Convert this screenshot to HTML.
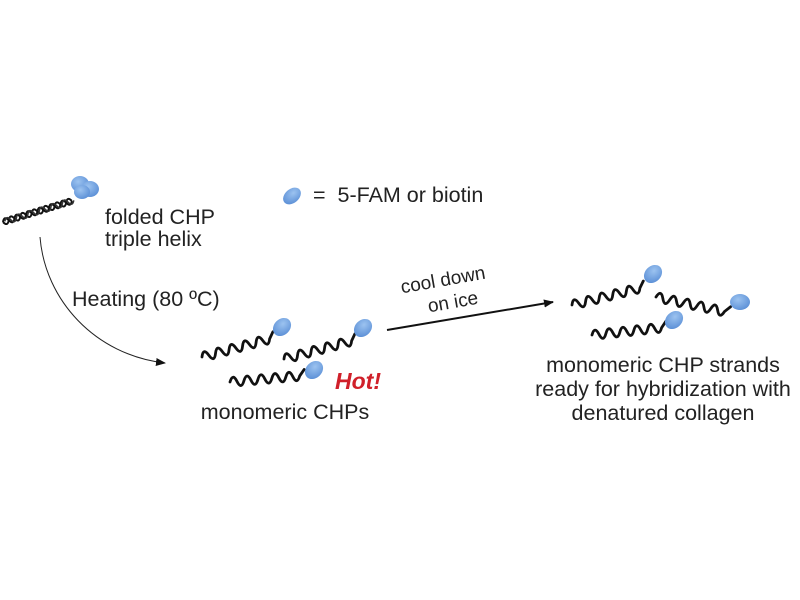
<!DOCTYPE html>
<html><head><meta charset="utf-8"><style>
html,body{margin:0;padding:0;background:#fff;}
svg{display:block;}
text{font-family:"Liberation Sans",sans-serif;fill:#222;}
</style></head><body>
<svg width="800" height="600" viewBox="0 0 800 600" xmlns="http://www.w3.org/2000/svg">
<defs>
<path id="w" d="M0 0 q3.5 -9 7 0 t7 0 t7 0 t7 0 t7 0 t7 0 t7 0 t7 0 t7 0 t7 0 l5 -6" fill="none" stroke="#111" stroke-width="2.8" stroke-linecap="round"/>
<radialGradient id="b" cx="0.4" cy="0.35" r="0.7"><stop offset="0" stop-color="#9cc3f0"/><stop offset="1" stop-color="#5b8fd6"/></radialGradient>
<marker id="ah" markerWidth="10" markerHeight="8" refX="9" refY="4" orient="auto" markerUnits="userSpaceOnUse"><path d="M0 0 L10 4 L0 8 z" fill="#111"/></marker>
</defs>
<!-- helix -->
<g transform="translate(3,222) rotate(-17)">
<path d="M0 0 q3 -6 6 0 t6 0 t6 0 t6 0 t6 0 t6 0 t6 0 t6 0 t6 0 t6 0 t6 0 t6 0" fill="none" stroke="#111" stroke-width="2"/>
<path d="M0 0 q3 6 6 0 t6 0 t6 0 t6 0 t6 0 t6 0 t6 0 t6 0 t6 0 t6 0 t6 0 t6 0" fill="none" stroke="#111" stroke-width="2"/>
<path d="M2 0 q3 -6 6 0 t6 0 t6 0 t6 0 t6 0 t6 0 t6 0 t6 0 t6 0 t6 0 t6 0 t6 0" fill="none" stroke="#333" stroke-width="1.5"/>
</g>
<ellipse cx="80" cy="184" rx="9" ry="8" fill="url(#b)"/>
<ellipse cx="90" cy="189" rx="9" ry="8" fill="url(#b)"/>
<ellipse cx="82" cy="192" rx="8" ry="7" fill="url(#b)"/>
<text x="105" y="224" font-size="21.5">folded CHP</text>
<text x="105" y="246" font-size="21.5">triple helix</text>
<ellipse cx="292" cy="196" rx="7" ry="10" transform="rotate(50 292 196)" fill="url(#b)"/>
<text x="313" y="202" font-size="21.5" xml:space="preserve">=  5-FAM or biotin</text>
<!-- heating arrow -->
<path d="M40 237 C45 300 95 355 165 363" fill="none" stroke="#222" stroke-width="1" marker-end="url(#ah)"/>
<text x="72" y="306" font-size="21.5">Heating (80 ºC)</text>
<!-- left strands -->
<use href="#w" transform="translate(202,357) rotate(-15)"/>
<ellipse cx="282" cy="327" rx="8" ry="10" transform="rotate(45 282 327)" fill="url(#b)"/>
<use href="#w" transform="translate(284,359) rotate(-15)"/>
<ellipse cx="363" cy="328" rx="8" ry="10" transform="rotate(45 363 328)" fill="url(#b)"/>
<use href="#w" transform="translate(230,382) rotate(-5)"/>
<ellipse cx="314" cy="370" rx="8" ry="10" transform="rotate(45 314 370)" fill="url(#b)"/>
<text x="335" y="389" font-size="23" font-weight="bold" font-style="italic" style="fill:#d0202a">Hot!</text>
<text x="285" y="419" font-size="21.5" text-anchor="middle">monomeric CHPs</text>
<!-- cool arrow -->
<line x1="387" y1="330" x2="553" y2="302" stroke="#111" stroke-width="2" marker-end="url(#ah)"/>
<text x="444" y="286" font-size="19" text-anchor="middle" transform="rotate(-10 444 286)">cool down</text>
<text x="454" y="308" font-size="19" text-anchor="middle" transform="rotate(-10 454 308)">on ice</text>
<!-- right strands -->
<use href="#w" transform="translate(572,305) rotate(-14)"/>
<ellipse cx="653" cy="274" rx="8" ry="10" transform="rotate(45 653 274)" fill="url(#b)"/>
<use href="#w" transform="translate(656,297) rotate(12)"/>
<ellipse cx="740" cy="302" rx="10" ry="8" fill="url(#b)"/>
<use href="#w" transform="translate(592,335) rotate(-6)"/>
<ellipse cx="674" cy="320" rx="8" ry="10" transform="rotate(45 674 320)" fill="url(#b)"/>
<text x="663" y="372" font-size="21.5" text-anchor="middle">monomeric CHP strands</text>
<text x="663" y="396" font-size="21.5" text-anchor="middle">ready for hybridization with</text>
<text x="663" y="420" font-size="21.5" text-anchor="middle">denatured collagen</text>
</svg>
</body></html>
